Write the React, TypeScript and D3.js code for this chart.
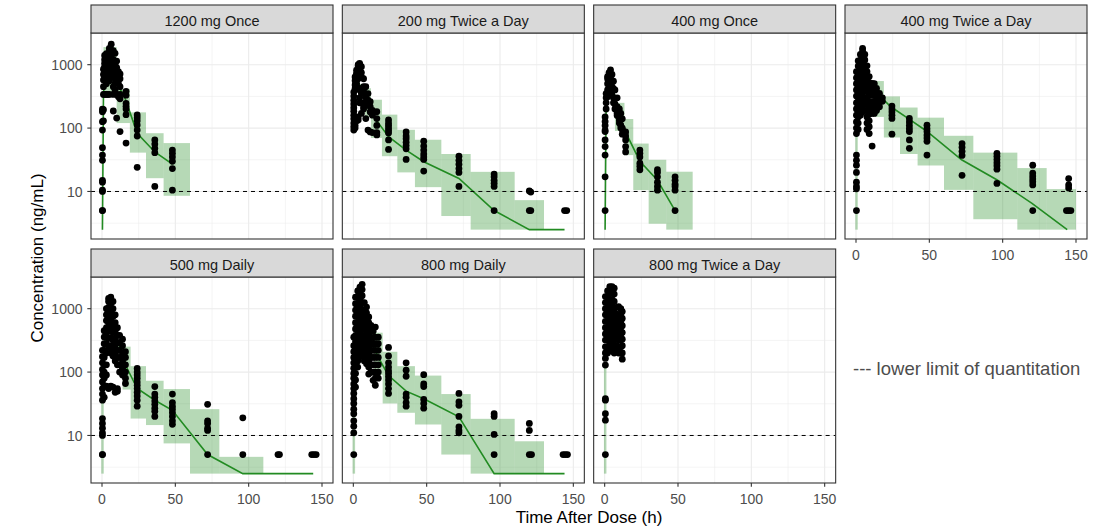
import React from "react";
import * as d3 from "d3";

// ---------- data ----------
const panelTitles = [
  "1200 mg Once",
  "200 mg Twice a Day",
  "400 mg Once",
  "400 mg Twice a Day",
  "500 mg Daily",
  "800 mg Daily",
  "800 mg Twice a Day",
];
const xTicks = [0, 50, 100, 150];
const xMinorTicks = [25, 75, 125];
const yTicks = [10, 100, 1000];
const yMinorTicks = [3.1623, 31.623, 316.23];
const xDataRange = [0, 150];
const yDataRange = [2.5, 2250];
const lloq = 10;
const xTitle = "Time After Dose (h)";
const yTitle = "Concentration (ng/mL)";
const legendText = "--- lower limit of quantitation";

// observations: [time, [concentrations...]]
type Col = [number, number[]];
const obs1200Once: Col[] = [
  [0.3, [5, 5, 10, 10.5, 14, 15, 31, 37.5, 49, 93, 126, 181, 198]],
  [1, [130, 195, 340, 450, 573, 700, 850]],
  [1.8, [930, 1050, 1200, 1400, 825, 600, 340]],
  [3, [1150, 1300, 1500, 960, 880, 720, 500, 340]],
  [4, [1050, 1250, 1340, 1150, 950, 800, 650, 340]],
  [5, [1340, 1600, 1800, 1100, 900, 700, 560, 340]],
  [6.3, [2100, 1700, 1400, 1000, 850, 650]],
  [7.7, [1660, 1200, 900, 700, 450, 340, 186]],
  [8.9, [1510, 1000, 800, 600, 508, 400]],
  [10, [1140, 900, 700, 600, 340, 144]],
  [11.2, [775, 650, 500, 313]],
  [12.3, [713, 600, 450, 340, 290, 88]],
  [16.4, [380, 330, 245, 220, 200, 163, 58]],
  [24, [161, 145, 130, 112, 93, 75, 24]],
  [36, [65, 56, 48, 41, 12]],
  [48, [45, 40, 35, 30, 23, 10.5]],
];
const obs200Bid: Col[] = [
  [0.3, [93, 105, 120, 140, 160, 185, 210, 240, 275, 320, 370]],
  [1.2, [100, 110, 420, 480, 560, 640]],
  [2.2, [130, 720, 820, 700, 600, 500]],
  [3.3, [950, 1000, 860, 134, 150, 600, 430]],
  [4.3, [1050, 1000, 900, 700, 398, 300, 250]],
  [5.5, [930, 750, 646, 350, 250, 170]],
  [7, [600, 450, 380, 217, 200]],
  [8.5, [450, 330, 312, 260, 141]],
  [10, [350, 277, 230, 93]],
  [11.5, [260, 217, 180, 87]],
  [13, [190, 160, 85]],
  [16, [181, 141, 110, 85, 78]],
  [24, [134, 120, 110, 100, 92, 84, 65, 46]],
  [36, [87, 75, 68, 60, 53, 47, 32]],
  [48, [62, 52, 45, 39, 35, 32, 21]],
  [72, [36, 31, 27, 23, 20, 12]],
  [96, [18.8, 17, 15, 13.5, 12, 5]],
  [120, [10.2, 5]],
  [121, [9.8, 5]],
  [144, [5]],
  [145.5, [5]],
];
const obs400Once: Col[] = [
  [0.3, [5, 17, 37.5, 51, 65, 88, 93, 110, 127, 150]],
  [1, [200, 250, 300, 350]],
  [2, [312, 400, 500, 600, 650]],
  [3, [687, 750, 550, 450]],
  [4, [825, 700, 600, 500, 380]],
  [5, [700, 560, 450, 330]],
  [6, [550, 420, 300, 250]],
  [7, [400, 295, 240, 200]],
  [8.5, [300, 217, 170, 158]],
  [10, [200, 134, 120]],
  [11, [170, 111, 100]],
  [12, [140, 100, 95, 80]],
  [14.3, [87, 75, 65, 51, 42]],
  [24, [45, 40, 35, 28, 25, 22]],
  [36, [22, 20, 17, 14, 12, 10.5]],
  [48, [17, 15, 13, 12, 10.5, 5]],
];
const obs400Bid: Col[] = [
  [0.3, [5, 11, 12, 14, 20, 26, 31, 37.5, 82, 100, 125, 160, 200, 250, 320, 400, 500, 620, 775]],
  [1.5, [95, 120, 150, 190, 240, 300, 380, 480, 600, 750, 950, 1150]],
  [3, [160, 200, 250, 310, 390, 490, 610, 760, 950, 1180, 1450]],
  [4.5, [180, 230, 290, 360, 450, 560, 700, 880, 1100, 1380, 1650, 1810]],
  [6, [190, 240, 300, 380, 470, 590, 740, 920, 1185, 1450]],
  [7.5, [95, 120, 150, 190, 240, 300, 380, 470, 590, 775, 960]],
  [9, [82, 105, 130, 165, 210, 260, 330, 410, 520, 650]],
  [11, [52, 170, 210, 260, 330, 410, 507]],
  [12.5, [170, 210, 260, 330, 420, 500]],
  [14, [190, 230, 280, 350, 423]],
  [16, [217, 260, 310, 352]],
  [18, [264, 300]],
  [24.5, [222, 200, 180, 160, 142, 80]],
  [36.4, [142, 125, 110, 98, 88, 65, 48]],
  [48.4, [111, 98, 88, 78, 70, 62, 37.5]],
  [72.3, [57, 50, 43, 37, 18]],
  [96.1, [40, 36, 32, 28.5, 25.5, 22.5, 13.4]],
  [120.5, [26, 19.5, 17.5, 15.8, 14.2, 12.7, 5]],
  [145, [16, 12.7, 11.3, 5]],
  [143.5, [5]],
  [146.5, [5]],
];
const obs500Daily: Col[] = [
  [0.3, [5, 5, 10, 11, 13, 15.5, 18.5, 36, 45, 55, 70, 90, 110, 140, 175, 220]],
  [1.5, [40, 60, 80, 100, 130, 170, 220, 280, 356, 450]],
  [3, [60, 90, 130, 200, 280, 380, 500, 650, 800, 1000]],
  [4.5, [55, 250, 340, 450, 600, 800, 1050, 1300, 1450]],
  [6, [60, 200, 260, 350, 480, 650, 900, 1200, 1520]],
  [7.5, [58, 180, 240, 320, 420, 560, 750, 1000, 1300]],
  [9, [48, 150, 200, 260, 340, 450, 600, 800]],
  [10.5, [50, 55, 130, 170, 220, 290, 380, 500]],
  [12, [100, 130, 170, 220, 290, 380]],
  [14, [90, 115, 150, 200, 260, 330]],
  [16, [66, 80, 100, 130, 170, 210]],
  [24, [114, 100, 90, 80, 70, 62, 55, 48, 42, 36, 29]],
  [36, [59, 45, 40, 35, 31, 27, 24, 20]],
  [48, [45, 33, 29, 26, 23, 20, 17, 15]],
  [72, [31, 17, 15.5, 13, 12, 5]],
  [96, [19, 5]],
  [120, [5]],
  [121, [5]],
  [143, [5]],
  [144.5, [5]],
  [146, [5]],
];
const obs800Daily: Col[] = [
  [0.3, [5, 11, 14, 17, 22, 26, 32, 38, 46, 55, 65, 80, 95, 115, 140, 170, 210, 260, 355]],
  [1.5, [58, 75, 95, 120, 150, 190, 240, 300, 380, 480, 600, 760, 950, 1200, 1520]],
  [3, [120, 150, 190, 240, 300, 380, 480, 600, 760, 950, 1200, 1500, 1900]],
  [4.5, [174, 220, 280, 350, 440, 560, 700, 880, 1100, 1400, 1800, 2180]],
  [6, [180, 230, 290, 370, 470, 600, 760, 960, 1250, 1600, 2000, 2420]],
  [7.5, [150, 190, 240, 300, 380, 480, 600, 760, 960, 1250]],
  [9, [135, 170, 210, 270, 340, 430, 540, 680, 860, 1060]],
  [10.5, [93, 120, 150, 190, 240, 300, 380, 480, 600, 740]],
  [12, [100, 130, 170, 220, 280, 350, 440, 545]],
  [13.5, [74, 100, 130, 170, 220, 280, 350, 440, 513]],
  [15, [62, 80, 100, 130, 170, 220, 280, 355, 513]],
  [17, [80, 100, 130, 170, 220, 280, 355]],
  [24, [245, 180, 140, 120, 105, 95, 85, 75, 65, 55, 46]],
  [36, [140, 107, 86, 45, 40, 33, 29]],
  [48, [91, 65, 59, 37, 32, 27]],
  [72, [46, 34, 30, 20, 13.7, 12, 11]],
  [96, [22, 20, 10.4, 5]],
  [120, [15.5, 12, 5]],
  [121.5, [5]],
  [143, [5]],
  [144.5, [5]],
  [146, [5]],
];
const obs800Bid: Col[] = [
  [0.5, [5, 17.4, 22, 36, 38, 129, 164, 200, 250, 320, 400, 500, 630, 800, 1000, 1250, 1550]],
  [2, [200, 250, 320, 400, 500, 630, 800, 1000, 1250, 1550, 1900]],
  [3.5, [220, 280, 350, 440, 560, 700, 880, 1100, 1400, 1800, 2220]],
  [5, [220, 280, 350, 440, 560, 700, 880, 1100, 1400, 1800, 2220]],
  [6.5, [200, 250, 320, 400, 500, 630, 800, 1000, 1300, 1700, 2100]],
  [8, [210, 260, 330, 420, 520, 660, 830, 1050]],
  [9.5, [200, 250, 320, 400, 500, 630, 800, 1075]],
  [11, [200, 250, 320, 400, 500, 630, 800, 1000]],
  [12, [160, 200, 260, 330, 420, 540, 700, 900]],
];

// median profiles: [time, conc]
const med1200Once: [number, number][] = [[0.3, 2.5], [1, 330], [2, 800], [4, 1000], [6, 900], [8, 700], [12, 420], [15, 330], [24, 83], [36, 42], [48, 27]];
const med200Bid: [number, number][] = [[0.5, 250], [2, 450], [4, 500], [8, 300], [12, 200], [16, 130], [24, 73], [36, 45], [48, 29.5], [72, 16], [96, 5], [120, 2.5], [144, 2.5]];
const med400Once: [number, number][] = [[0.3, 2.5], [1, 245], [2, 500], [4, 650], [6, 400], [8, 250], [12, 110], [24, 30], [36, 15], [48, 5]];
const med400Bid: [number, number][] = [[0.5, 300], [2, 500], [4, 600], [8, 450], [12, 350], [18, 290], [24, 215], [36, 140], [48, 90], [72, 31.6], [96, 15.3], [120, 6.5], [144, 2.5]];
const med500Daily: [number, number][] = [[0.5, 100], [2, 300], [4, 600], [6, 700], [8, 500], [12, 250], [16, 129], [24, 55], [36, 36], [48, 25], [72, 5], [96, 2.5], [120, 2.5], [144, 2.5]];
const med800Daily: [number, number][] = [[0.5, 200], [2, 600], [4, 1000], [6, 1000], [8, 700], [12, 300], [18, 155], [24, 88], [36, 50], [48, 38], [72, 19.7], [96, 2.5], [120, 2.5], [144, 2.5]];
const med800Bid: [number, number][] = [[1, 600], [4, 900], [8, 600], [12, 450]];

// prediction bands per time bin: [tStart, tEnd, low, high]
const band1200Once = [[1, 10, 330, 1900], [10, 19, 120, 413], [19, 30, 41, 177], [30, 42, 16.2, 83], [42, 60, 8.55, 58]];
const band200Bid = [[8, 12, 150, 425], [12, 19.5, 70, 280], [19.5, 30, 36, 163], [30, 42, 20, 94], [42, 60, 11.7, 65.5], [60, 80, 4.1, 39], [80, 110, 2.5, 20.4], [110, 130, 2.5, 7.3]];
const band400Once = [[7, 13.5, 90, 250], [13.5, 19.5, 37.5, 139], [19.5, 30, 10.5, 57], [30, 42, 3.1, 31.6], [42, 60, 2.5, 20.5]];
const band400Bid = [[-0.5, 1.2, 2.5, 82], [12, 19, 150, 552], [19, 30, 71, 316], [30, 42, 39, 211], [42, 60, 25.7, 146], [60, 80, 10.6, 75.6], [80, 110, 3.65, 41], [110, 130, 2.5, 23.4], [130, 150, 2.5, 10.9]];
const band500Daily = [[-0.5, 1.2, 2.5, 66], [14, 19.5, 53, 252], [19.5, 30, 18.5, 124], [30, 42, 14.6, 73], [42, 60, 7.5, 54], [60, 80, 2.5, 26], [80, 110, 2.5, 4.6]];
const band800Daily = [[-0.5, 1.2, 2.5, 40], [14, 20, 90, 418], [20, 30, 32, 209], [30, 42, 22.8, 124], [42, 60, 14.9, 88], [60, 80, 5, 45], [80, 110, 2.5, 18.3], [110, 130, 2.5, 8.1]];
const band800Bid = [[-0.5, 1.2, 2.5, 128]];

const panels = [
  { title: panelTitles[0], obs: obs1200Once, med: med1200Once, band: band1200Once },
  { title: panelTitles[1], obs: obs200Bid, med: med200Bid, band: band200Bid },
  { title: panelTitles[2], obs: obs400Once, med: med400Once, band: band400Once },
  { title: panelTitles[3], obs: obs400Bid, med: med400Bid, band: band400Bid },
  { title: panelTitles[4], obs: obs500Daily, med: med500Daily, band: band500Daily },
  { title: panelTitles[5], obs: obs800Daily, med: med800Daily, band: band800Daily },
  { title: panelTitles[6], obs: obs800Bid, med: med800Bid, band: band800Bid },
];

// ---------- chart ----------
const FONT = "'Liberation Sans', Arial, Helvetica, sans-serif";
const GREEN = "#228B22";

export default function App() {
  const W = 1099, H = 530;
  const plotL = 91, plotR = 1087, gapX = 9.33;
  const pW = (plotR - plotL - 3 * gapX) / 4;
  const stripH = 28, pH = 206;
  const rowTop = [5, 249];

  const xPad = (xDataRange[1] - xDataRange[0]) * 0.05;
  const x = d3.scaleLinear().domain([xDataRange[0] - xPad, xDataRange[1] + xPad]).range([0, pW]);
  const l0 = Math.log10(yDataRange[0]), l1 = Math.log10(yDataRange[1]);
  const yp = (l1 - l0) * 0.05;
  const y = d3.scaleLog().domain([Math.pow(10, l0 - yp), Math.pow(10, l1 + yp)]).range([pH, 0]);
  const lineGen = d3.line<[number, number]>().x((d) => x(d[0])).y((d) => y(d[1]));

  return (
    <svg
      width={W}
      height={H}
      style={{ position: "absolute", left: 0, top: 0, display: "block", background: "#fff" }}
      fontFamily={FONT}
    >
      <rect x={0} y={0} width={W} height={H} fill="#fff" />
      <defs>
        <clipPath id="pclip">
          <rect x={0} y={0} width={pW} height={pH} />
        </clipPath>
      </defs>
      {panels.map((p, i) => {
        const row = Math.floor(i / 4), col = i % 4;
        const px = plotL + col * (pW + gapX);
        const py = rowTop[row] + stripH;
        const showX = row === 1 || i === 3;
        const showY = col === 0;
        return (
          <g key={i} transform={`translate(${px},${py})`}>
            <rect x={0} y={0} width={pW} height={pH} fill="#fff" />
            {yMinorTicks.map((v) => (
              <line key={"ym" + v} x1={0} x2={pW} y1={y(v)} y2={y(v)} stroke="#EBEBEB" strokeWidth={0.55} />
            ))}
            {xMinorTicks.map((v) => (
              <line key={"xm" + v} x1={x(v)} x2={x(v)} y1={0} y2={pH} stroke="#EBEBEB" strokeWidth={0.55} />
            ))}
            {yTicks.map((v) => (
              <line key={"yM" + v} x1={0} x2={pW} y1={y(v)} y2={y(v)} stroke="#EBEBEB" strokeWidth={1.1} />
            ))}
            {xTicks.map((v) => (
              <line key={"xM" + v} x1={x(v)} x2={x(v)} y1={0} y2={pH} stroke="#EBEBEB" strokeWidth={1.1} />
            ))}
            <g clipPath="url(#pclip)">
              {p.band.map((b, j) => (
                <rect
                  key={"b" + j}
                  x={x(b[0])}
                  width={x(b[1]) - x(b[0])}
                  y={y(b[3])}
                  height={y(b[2]) - y(b[3])}
                  fill={GREEN}
                  fillOpacity={0.33}
                />
              ))}
              <path d={lineGen(p.med) || ""} fill="none" stroke={GREEN} strokeWidth={1.6} />
              {p.obs.map((c, j) =>
                c[1].map((v, k) => (
                  <circle key={"o" + j + "_" + k} cx={x(c[0])} cy={y(v)} r={3.4} fill="#000" />
                ))
              )}
              <line x1={0} x2={pW} y1={y(lloq)} y2={y(lloq)} stroke="#000" strokeWidth={1} strokeDasharray="4,4" />
            </g>
            <rect x={0} y={0} width={pW} height={pH} fill="none" stroke="#333333" strokeWidth={1.1} />
            {/* strip */}
            <rect x={0} y={-stripH} width={pW} height={stripH} fill="#D9D9D9" stroke="#333333" strokeWidth={1.1} />
            <text x={pW / 2} y={-stripH / 2 + 1.5} dy="0.36em" textAnchor="middle" fontSize={14.5} fill="#1A1A1A">
              {p.title}
            </text>
            {showX &&
              xTicks.map((v) => (
                <g key={"xt" + v}>
                  <line x1={x(v)} x2={x(v)} y1={pH} y2={pH + 3.7} stroke="#333333" strokeWidth={1.1} />
                  <text x={x(v)} y={pH + 15.5} dy="0.36em" textAnchor="middle" fontSize={14} fill="#4D4D4D">
                    {String(v)}
                  </text>
                </g>
              ))}
            {showY &&
              yTicks.map((v) => (
                <g key={"yt" + v}>
                  <line x1={-3.7} x2={0} y1={y(v)} y2={y(v)} stroke="#333333" strokeWidth={1.1} />
                  <text x={-8.5} y={y(v)} dy="0.36em" textAnchor="end" fontSize={14} fill="#4D4D4D">
                    {String(v)}
                  </text>
                </g>
              ))}
          </g>
        );
      })}
      <text x={(plotL + plotR) / 2} y={517} dy="0.36em" textAnchor="middle" fontSize={17} fill="#000">
        {xTitle}
      </text>
      <text
        transform={`translate(37,258) rotate(-90)`}
        dy="0.36em"
        textAnchor="middle"
        fontSize={17}
        fill="#000"
      >
        {yTitle}
      </text>
      <text x={853} y={368} dy="0.36em" fontSize={18.5} fill="#4D4D4D">
        {legendText}
      </text>
    </svg>
  );
}
